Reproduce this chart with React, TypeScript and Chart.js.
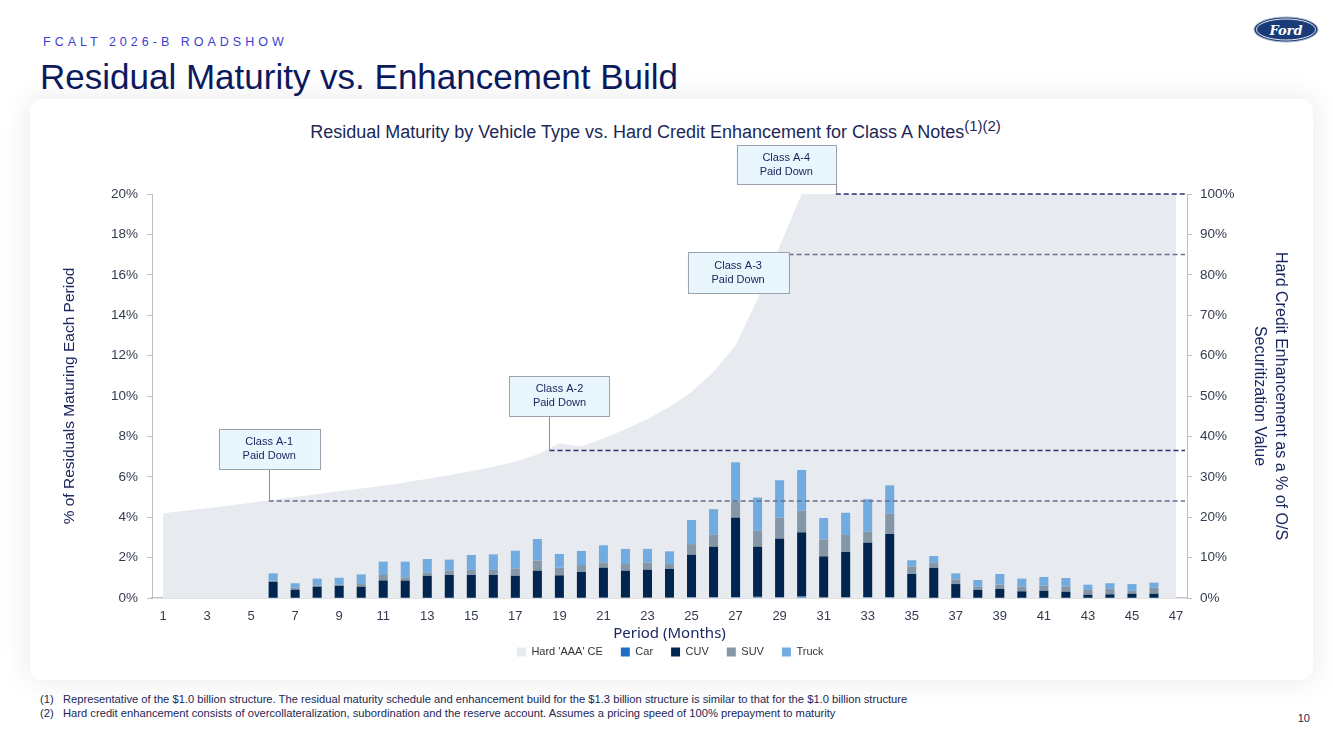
import React, { useEffect, useRef } from 'react';
import { Chart, registerables } from 'chart.js';

Chart.register(...registerables);

// Collection periods (months) on the category axis
const periods = [
  '1', '2', '3', '4', '5', '6', '7', '8', '9', '10',
  '11', '12', '13', '14', '15', '16', '17', '18', '19', '20',
  '21', '22', '23', '24', '25', '26', '27', '28', '29', '30',
  '31', '32', '33', '34', '35', '36', '37', '38', '39', '40',
  '41', '42', '43', '44', '45', '46', '47',
];

// Hard 'AAA' credit enhancement, % of outstanding securitization value
const hardAaaCe = [
  21.0, 21.6, 22.2, 22.9, 23.6, 24.3, 25.0, 25.7, 26.4, 27.1,
  27.8, 28.6, 29.5, 30.4, 31.4, 32.5, 33.7, 35.5, 38.3, 37.5,
  39.5, 41.8, 44.3, 47.3, 51.0, 56.0, 62.5, 74.0, 87.0, 100,
  100, 100, 100, 100, 100, 100, 100, 100, 100, 100,
  100, 100, 100, 100, 100, 100, 100,
];

// % of residuals maturing each period, by vehicle type
const carPct = [
  0, 0, 0, 0, 0, 0.01, 0.01, 0.01, 0.01, 0.01,
  0.01, 0.01, 0.01, 0.01, 0.01, 0.01, 0.01, 0.01, 0.01, 0.01,
  0.02, 0.02, 0.02, 0.02, 0.04, 0.04, 0.05, 0.06, 0.04, 0.08,
  0.03, 0.04, 0.04, 0.04, 0.02, 0.01, 0.01, 0.01, 0.01, 0.01,
  0.01, 0.01, 0.01, 0.01, 0.01, 0.01, 0,
];
const cuvPct = [
  0, 0, 0, 0, 0, 0.79, 0.40, 0.55, 0.59, 0.55,
  0.86, 0.85, 1.09, 1.13, 1.13, 1.13, 1.09, 1.34, 1.11, 1.28,
  1.48, 1.33, 1.38, 1.42, 2.10, 2.50, 3.93, 2.48, 2.90, 3.17,
  2.03, 2.24, 2.70, 3.13, 1.17, 1.48, 0.68, 0.39, 0.44, 0.32,
  0.35, 0.30, 0.15, 0.17, 0.20, 0.20, 0,
];
const suvPct = [
  0, 0, 0, 0, 0, 0.06, 0.10, 0.06, 0.06, 0.13,
  0.27, 0.16, 0.15, 0.21, 0.25, 0.25, 0.35, 0.50, 0.38, 0.34,
  0.25, 0.33, 0.35, 0.24, 0.53, 0.59, 0.79, 0.79, 1.04, 1.07,
  0.84, 0.84, 0.54, 1.00, 0.36, 0.26, 0.23, 0.16, 0.21, 0.23,
  0.25, 0.25, 0.24, 0.28, 0.15, 0.30, 0,
];
const truckPct = [
  0, 0, 0, 0, 0, 0.36, 0.22, 0.34, 0.34, 0.48,
  0.66, 0.78, 0.68, 0.55, 0.74, 0.77, 0.89, 1.07, 0.68, 0.70,
  0.86, 0.75, 0.68, 0.63, 1.19, 1.27, 1.95, 1.64, 1.85, 2.02,
  1.06, 1.10, 1.61, 1.41, 0.32, 0.33, 0.30, 0.33, 0.53, 0.40,
  0.43, 0.43, 0.26, 0.27, 0.33, 0.25, 0,
];

// Class A tranche pay-down points and the CE level reached at each
const paydownClasses = ['Class A-1', 'Class A-2', 'Class A-3', 'Class A-4'];
const paydownPeriodPos = [4.8, 17.55, 28.41, 30.55];
const paydownCeLevels = [24, 36.5, 85, 100];

const NAVY = '#1c2760';
const TICK = '#333b4f';
const FONT = "'Liberation Sans', Arial, Helvetica, sans-serif";

// Callout geometry (pixels, relative to the anchor on the CE level line)
const callouts = [
  { dx: -50, dy: -72, w: 101, h: 40, lead: 'center', line: '#6b6e96' },
  { dx: -40, dy: -74.5, w: 100, h: 40, lead: 'center', line: '#2d3170' },
  { dx: -101, dy: -2.5, w: 101, h: 41, lead: 'none', line: '#6b6e96' },
  { dx: -99, dy: -49, w: 99, h: 39, lead: 'right', line: '#2d3170' },
];

const paydownPlugin = {
  id: 'paydownCallouts',
  afterDatasetsDraw(chart: any) {
    const { ctx, chartArea, scales } = chart;
    const xs = scales.x;
    const ys = scales.y2;
    ctx.save();
    paydownClasses.forEach((name, i) => {
      const c = callouts[i];
      const ax = xs.getPixelForValue(paydownPeriodPos[i]);
      const ly = ys.getPixelForValue(paydownCeLevels[i]);
      const left = ax + c.dx;
      const top = ly + c.dy;

      // dashed CE level to the right axis
      ctx.setLineDash([5, 3]);
      ctx.lineWidth = 1.5;
      ctx.strokeStyle = c.line;
      ctx.beginPath();
      ctx.moveTo(ax, ly);
      ctx.lineTo(chartArea.right - 2, ly);
      ctx.stroke();
      ctx.setLineDash([]);

      // leader from the box down to the level
      if (c.lead !== 'none') {
        ctx.strokeStyle = '#8a949e';
        ctx.lineWidth = 1;
        ctx.beginPath();
        ctx.moveTo(Math.round(ax) + 0.5, top + c.h);
        ctx.lineTo(Math.round(ax) + 0.5, ly);
        ctx.stroke();
      }

      // box
      ctx.fillStyle = '#eaf6fd';
      ctx.fillRect(left, top, c.w, c.h);
      ctx.strokeStyle = '#9aa3ad';
      ctx.lineWidth = 1;
      ctx.strokeRect(Math.round(left) + 0.5, Math.round(top) + 0.5, c.w, c.h);

      ctx.fillStyle = NAVY;
      ctx.font = `11px ${FONT}`;
      ctx.textAlign = 'center';
      ctx.textBaseline = 'middle';
      const cx = left + c.w / 2;
      ctx.fillText(name, cx, top + c.h / 2 - 7);
      ctx.fillText('Paid Down', cx, top + c.h / 2 + 7);
    });
    ctx.restore();
  },
};

function ResidualChart() {
  const canvasRef = useRef<HTMLCanvasElement>(null);

  useEffect(() => {
    if (!canvasRef.current) return;
    Chart.defaults.font.family = FONT;
    const chart = new Chart(canvasRef.current, {
      type: 'bar',
      data: {
        labels: periods,
        datasets: [
          {
            type: 'line',
            label: "Hard 'AAA' CE",
            data: hardAaaCe,
            yAxisID: 'y2',
            fill: 'origin',
            backgroundColor: '#e7eaee',
            borderColor: '#e7eaee',
            borderWidth: 0,
            pointRadius: 0,
            tension: 0,
            order: 1,
          } as any,
          { label: 'Car', data: carPct, backgroundColor: '#1f6ec4', yAxisID: 'y', order: 0 },
          { label: 'CUV', data: cuvPct, backgroundColor: '#00264f', yAxisID: 'y', order: 0 },
          { label: 'SUV', data: suvPct, backgroundColor: '#8596a6', yAxisID: 'y', order: 0 },
          { label: 'Truck', data: truckPct, backgroundColor: '#72abdf', yAxisID: 'y', order: 0 },
        ],
      },
      options: {
        responsive: true,
        maintainAspectRatio: false,
        animation: false,
        events: [],
        layout: { padding: { left: 20, right: 22.6, top: 95, bottom: 12.5 } },
        datasets: { bar: { barPercentage: 0.41, categoryPercentage: 1 } },
        plugins: {
          tooltip: { enabled: false },
          legend: {
            position: 'bottom',
            labels: {
              boxWidth: 9,
              boxHeight: 9,
              padding: 18,
              color: '#333',
              font: { size: 11 },
              sort: (a: any, b: any) => a.datasetIndex - b.datasetIndex,
            },
          },
        },
        scales: {
          x: {
            stacked: true,
            grid: { display: false, drawTicks: false },
            border: { display: true, color: '#c4c4c4', width: 1.5 },
            ticks: {
              autoSkip: false,
              maxRotation: 0,
              padding: 11,
              color: TICK,
              font: { size: 13 },
              callback: (_v: any, i: number) => (i % 2 === 0 ? periods[i] : ''),
            },
            title: {
              display: true,
              text: 'Period (Months)',
              color: NAVY,
              font: { family: "'Noto Sans', sans-serif", size: 15 },
              padding: { top: 0, bottom: -14.5 },
            },
            afterFit: (s: any) => { s.height = 30.5; },
          },
          y: {
            position: 'left',
            stacked: true,
            min: 0,
            max: 20,
            grid: { drawOnChartArea: false, tickLength: 5, color: '#bfbfbf' },
            border: { display: true, color: '#bfbfbf' },
            ticks: {
              stepSize: 2,
              padding: 9,
              color: TICK,
              font: { size: 13.5 },
              callback: (v: any) => `${v}%`,
            },
            title: {
              display: true,
              text: '% of Residuals Maturing Each Period',
              color: NAVY,
              font: { size: 15.5 },
              padding: { top: 10.7, bottom: 0 },
            },
            afterFit: (s: any) => { s.width = 102; },
          },
          y2: {
            position: 'right',
            min: 0,
            max: 100,
            grid: { drawOnChartArea: false, tickLength: 5, color: '#bfbfbf' },
            border: { display: true, color: '#bfbfbf' },
            ticks: {
              stepSize: 10,
              padding: 8,
              color: TICK,
              font: { size: 13.5 },
              callback: (v: any) => `${v}%`,
            },
            title: {
              display: true,
              text: ['Hard Credit Enhancement as a % of O/S', 'Securitization Value'],
              color: NAVY,
              font: { size: 16, lineHeight: 1.3 },
              padding: { top: 0, bottom: 0 },
            },
            afterFit: (s: any) => { s.width = 103.4; },
          },
        },
      } as any,
      plugins: [paydownPlugin],
    });
    return () => chart.destroy();
  }, []);

  return <canvas ref={canvasRef} />;
}

function FordOval() {
  return (
    <svg width={66} height={27} style={{ position: 'absolute', left: 1253, top: 16 }}>
      <ellipse cx={33} cy={13.5} rx={32} ry={12.5} fill="#1a3a78" stroke="#a9b6cc" strokeWidth={1} />
      <ellipse cx={33} cy={13.5} rx={29.5} ry={10.5} fill="none" stroke="#ffffff" strokeWidth={0.9} />
      <text
        x={33}
        y={18.5}
        textAnchor="middle"
        fontFamily="'DejaVu Serif', serif"
        fontStyle="italic"
        fontWeight="bold"
        fontSize={13}
        fill="#ffffff"
      >
        Ford
      </text>
    </svg>
  );
}

export default function App() {
  return (
    <div
      style={{
        position: 'absolute',
        left: 0,
        top: 0,
        width: 1333,
        height: 749,
        background: '#ffffff',
        fontFamily: FONT,
        overflow: 'hidden',
      }}
    >
      <div
        style={{
          position: 'absolute',
          left: 43,
          top: 36.4,
          fontSize: 12.5,
          lineHeight: 1,
          letterSpacing: 4,
          color: '#3d3dcf',
          whiteSpace: 'nowrap',
        }}
      >
        FCALT 2026-B ROADSHOW
      </div>
      <div
        style={{
          position: 'absolute',
          left: 40,
          top: 58.6,
          fontSize: 35,
          lineHeight: 1,
          color: '#0c1a5e',
          whiteSpace: 'nowrap',
        }}
      >
        Residual Maturity vs. Enhancement Build
      </div>
      <FordOval />

      <div
        style={{
          position: 'absolute',
          left: 30,
          top: 99,
          width: 1283,
          height: 581,
          background: '#ffffff',
          borderRadius: 12,
          boxShadow: '0 0 28px 4px rgba(0,0,0,0.07)',
        }}
      >
        <div
          style={{
            position: 'absolute',
            left: 0,
            top: 18.5,
            width: 1251,
            textAlign: 'center',
            fontSize: 18,
            lineHeight: 1,
            color: '#1c2858',
            whiteSpace: 'nowrap',
          }}
        >
          Residual Maturity by Vehicle Type vs. Hard Credit Enhancement for Class A Notes
          <sup style={{ fontSize: 15 }}>(1)(2)</sup>
        </div>
        <div style={{ position: 'absolute', left: 0, top: 0, width: 1283, height: 581 }}>
          <ResidualChart />
        </div>
      </div>

      <div style={{ position: 'absolute', left: 40, top: 692, fontSize: 11.2, lineHeight: '14px', color: '#1c2755' }}>
        <div style={{ whiteSpace: 'nowrap' }}>
          <span style={{ display: 'inline-block', width: 23 }}>(1)</span>
          Representative of the $1.0 billion structure. The residual maturity schedule and enhancement build for the $1.3 billion structure is similar to that for the $1.0 billion structure
        </div>
        <div style={{ whiteSpace: 'nowrap' }}>
          <span style={{ display: 'inline-block', width: 23 }}>(2)</span>
          Hard credit enhancement consists of overcollateralization, subordination and the reserve account. Assumes a pricing speed of 100% prepayment to maturity
        </div>
      </div>
      <div style={{ position: 'absolute', left: 1290, top: 712, width: 20, textAlign: 'right', fontSize: 11, color: '#1c2755' }}>
        10
      </div>
    </div>
  );
}
